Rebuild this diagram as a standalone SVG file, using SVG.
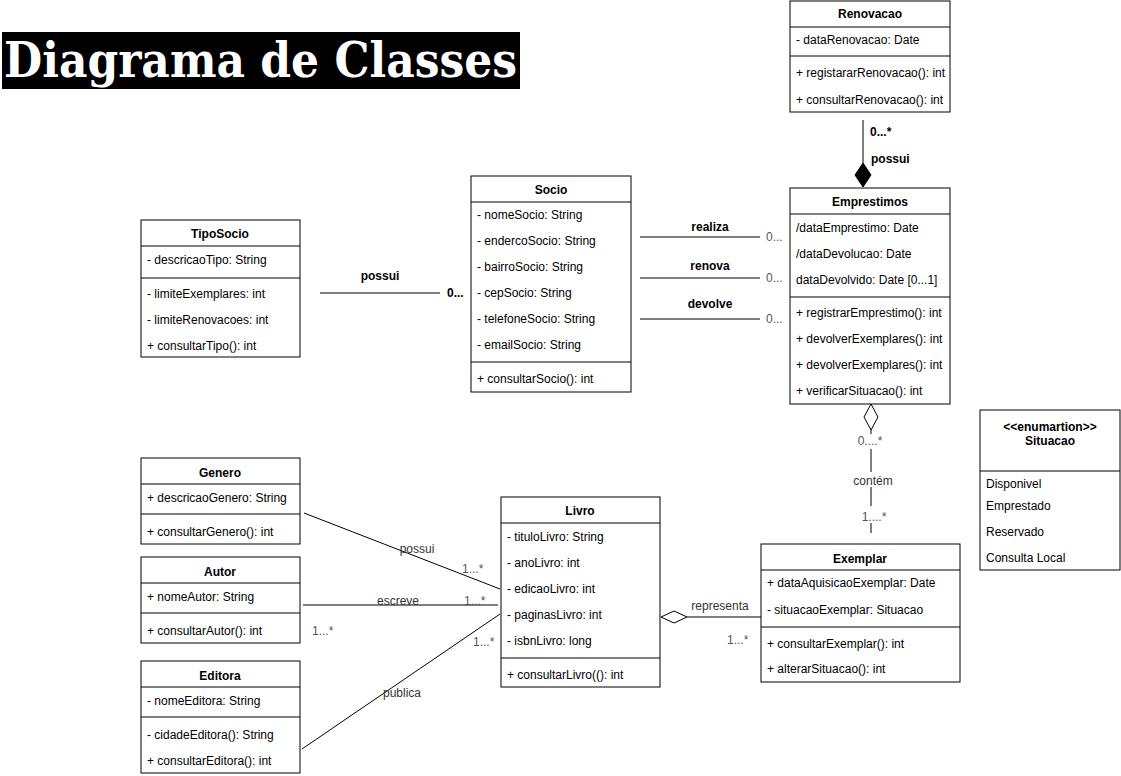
<svg xmlns="http://www.w3.org/2000/svg" width="1121" height="776" viewBox="0 0 1121 776">
<style>
.bx{fill:#fff;stroke:#000;stroke-width:1}
.ln{stroke:#000;stroke-width:1;fill:none}
.t{font-family:"Liberation Sans",Arial,sans-serif;font-size:12px;fill:#000}
.b{font-weight:bold}
.c{text-anchor:middle}
.g{fill:#333}
.m{fill:#555}
</style>
<rect width="1121" height="776" fill="#fff"/>
<g id="title">
<rect x="2" y="32" width="518" height="57" fill="#000"/>
<text x="4" y="77" font-family="'DejaVu Serif','Liberation Serif',serif" font-weight="bold" font-size="48" fill="#fff" textLength="513" lengthAdjust="spacingAndGlyphs">Diagrama de Classes</text>
</g>
<g id="connectors">
<line class="ln" x1="863" y1="120" x2="863" y2="163"/>
<polygon points="863,163 871,175 863,187 855,175" fill="#000" stroke="#000"/>
<text class="t b" x="870" y="136">0...*</text>
<text class="t b" x="871" y="163">possui</text>
<line class="ln" x1="320" y1="293" x2="440" y2="293"/>
<text class="t b c" x="380" y="280">possui</text>
<text class="t b" x="447" y="297">0...</text>
<line class="ln" x1="640" y1="237" x2="760" y2="237"/>
<text class="t b c" x="710" y="231">realiza</text>
<text class="t m" x="766" y="241">0...</text>
<line class="ln" x1="640" y1="278" x2="760" y2="278"/>
<text class="t b c" x="710" y="270">renova</text>
<text class="t m" x="766" y="282">0...</text>
<line class="ln" x1="640" y1="319" x2="760" y2="319"/>
<text class="t b c" x="710" y="308">devolve</text>
<text class="t m" x="766" y="323">0...</text>
<polygon points="871,404 878,417 871,430 864,417" fill="#fff" stroke="#000"/>
<line class="ln" x1="871" y1="430" x2="871" y2="434"/>
<text class="t c m" x="870" y="445">0....*</text>
<line class="ln" x1="871" y1="449" x2="871" y2="472"/>
<text class="t c g" x="873" y="485">contém</text>
<line class="ln" x1="871" y1="487" x2="871" y2="506"/>
<text class="t c m" x="874" y="521">1....*</text>
<line class="ln" x1="871" y1="523" x2="871" y2="533"/>
<line class="ln" x1="304" y1="513" x2="500" y2="589"/>
<text class="t c g" x="417" y="553">possui</text>
<text class="t m" x="462" y="573">1...*</text>
<line class="ln" x1="303" y1="605" x2="498" y2="605"/>
<text class="t c g" x="398" y="605">escreve</text>
<text class="t m" x="464" y="605">1...*</text>
<text class="t m" x="312" y="635">1...*</text>
<line class="ln" x1="302" y1="749" x2="500" y2="614"/>
<text class="t c g" x="402" y="697">publica</text>
<text class="t m" x="473" y="646">1...*</text>
<polygon points="661,617 674,611 687,617 674,623" fill="#fff" stroke="#000"/>
<line class="ln" x1="687" y1="617" x2="761" y2="617"/>
<text class="t c g" x="720" y="610">representa</text>
<text class="t m" x="727" y="644">1...*</text>
</g>
<g id="Renovacao">
<rect class="bx" x="790" y="1" width="160" height="111"/>
<line class="ln" x1="790" y1="27" x2="950" y2="27"/>
<line class="ln" x1="790" y1="56" x2="950" y2="56"/>
<text class="t b c" x="870" y="18">Renovacao</text>
<text class="t" x="796" y="44">- dataRenovacao: Date</text>
<text class="t" x="796" y="77">+ registararRenovacao(): int</text>
<text class="t" x="796" y="104">+ consultarRenovacao(): int</text>
</g>
<g id="Emprestimos">
<rect class="bx" x="790" y="188" width="160" height="216"/>
<line class="ln" x1="790" y1="214" x2="950" y2="214"/>
<line class="ln" x1="790" y1="297" x2="950" y2="297"/>
<text class="t b c" x="870" y="206">Emprestimos</text>
<text class="t" x="796" y="232">/dataEmprestimo: Date</text>
<text class="t" x="796" y="258">/dataDevolucao: Date</text>
<text class="t" x="796" y="284">dataDevolvido: Date [0...1]</text>
<text class="t" x="796" y="317">+ registrarEmprestimo(): int</text>
<text class="t" x="796" y="343">+ devolverExemplares(): int</text>
<text class="t" x="796" y="369">+ devolverExemplares(): int</text>
<text class="t" x="796" y="395">+ verificarSituacao(): int</text>
</g>
<g id="Socio">
<rect class="bx" x="471" y="176" width="160" height="216"/>
<line class="ln" x1="471" y1="202" x2="631" y2="202"/>
<line class="ln" x1="471" y1="362" x2="631" y2="362"/>
<text class="t b c" x="551" y="194">Socio</text>
<text class="t" x="477" y="219">- nomeSocio: String</text>
<text class="t" x="477" y="245">- endercoSocio: String</text>
<text class="t" x="477" y="271">- bairroSocio: String</text>
<text class="t" x="477" y="297">- cepSocio: String</text>
<text class="t" x="477" y="323">- telefoneSocio: String</text>
<text class="t" x="477" y="349">- emailSocio: String</text>
<text class="t" x="477" y="383">+ consultarSocio(): int</text>
</g>
<g id="TipoSocio">
<rect class="bx" x="141" y="220" width="159" height="137"/>
<line class="ln" x1="141" y1="246" x2="300" y2="246"/>
<line class="ln" x1="141" y1="278" x2="300" y2="278"/>
<text class="t b c" x="220" y="238">TipoSocio</text>
<text class="t" x="147" y="264">- descricaoTipo: String</text>
<text class="t" x="147" y="298">- limiteExemplares: int</text>
<text class="t" x="147" y="324">- limiteRenovacoes: int</text>
<text class="t" x="147" y="350">+ consultarTipo(): int</text>
</g>
<g id="Situacao">
<rect class="bx" x="980" y="410" width="140" height="160"/>
<line class="ln" x1="980" y1="471" x2="1120" y2="471"/>
<text class="t b c" x="1050" y="431">&lt;&lt;enumartion&gt;&gt;</text>
<text class="t b c" x="1050" y="445">Situacao</text>
<text class="t" x="986" y="488">Disponivel</text>
<text class="t" x="986" y="510">Emprestado</text>
<text class="t" x="986" y="536">Reservado</text>
<text class="t" x="986" y="562">Consulta Local</text>
</g>
<g id="Genero">
<rect class="bx" x="141" y="458" width="159" height="86"/>
<line class="ln" x1="141" y1="484" x2="300" y2="484"/>
<line class="ln" x1="141" y1="514" x2="300" y2="514"/>
<text class="t b c" x="220" y="477">Genero</text>
<text class="t" x="147" y="502">+ descricaoGenero: String</text>
<text class="t" x="147" y="536">+ consultarGenero(): int</text>
</g>
<g id="Autor">
<rect class="bx" x="141" y="557" width="159" height="86"/>
<line class="ln" x1="141" y1="583" x2="300" y2="583"/>
<line class="ln" x1="141" y1="613" x2="300" y2="613"/>
<text class="t b c" x="220" y="576">Autor</text>
<text class="t" x="147" y="601">+ nomeAutor: String</text>
<text class="t" x="147" y="635">+ consultarAutor(): int</text>
</g>
<g id="Editora">
<rect class="bx" x="141" y="661" width="159" height="112"/>
<line class="ln" x1="141" y1="687" x2="300" y2="687"/>
<line class="ln" x1="141" y1="717" x2="300" y2="717"/>
<text class="t b c" x="220" y="680">Editora</text>
<text class="t" x="147" y="705">- nomeEditora: String</text>
<text class="t" x="147" y="739">- cidadeEditora(): String</text>
<text class="t" x="147" y="765">+ consultarEditora(): int</text>
</g>
<g id="Livro">
<rect class="bx" x="501" y="497" width="159" height="190"/>
<line class="ln" x1="501" y1="523" x2="660" y2="523"/>
<line class="ln" x1="501" y1="658" x2="660" y2="658"/>
<text class="t b c" x="580" y="515">Livro</text>
<text class="t" x="507" y="541">- tituloLivro: String</text>
<text class="t" x="507" y="567">- anoLivro: int</text>
<text class="t" x="507" y="593">- edicaoLivro: int</text>
<text class="t" x="507" y="619">- paginasLivro: int</text>
<text class="t" x="507" y="645">- isbnLivro: long</text>
<text class="t" x="507" y="679">+ consultarLivro((): int</text>
</g>
<g id="Exemplar">
<rect class="bx" x="761" y="544" width="199" height="138"/>
<line class="ln" x1="761" y1="570" x2="960" y2="570"/>
<line class="ln" x1="761" y1="627" x2="960" y2="627"/>
<text class="t b c" x="860" y="563">Exemplar</text>
<text class="t" x="767" y="587">+ dataAquisicaoExemplar: Date</text>
<text class="t" x="767" y="614">- situacaoExemplar: Situacao</text>
<text class="t" x="767" y="648">+ consultarExemplar(): int</text>
<text class="t" x="767" y="673">+ alterarSituacao(): int</text>
</g>
</svg>
